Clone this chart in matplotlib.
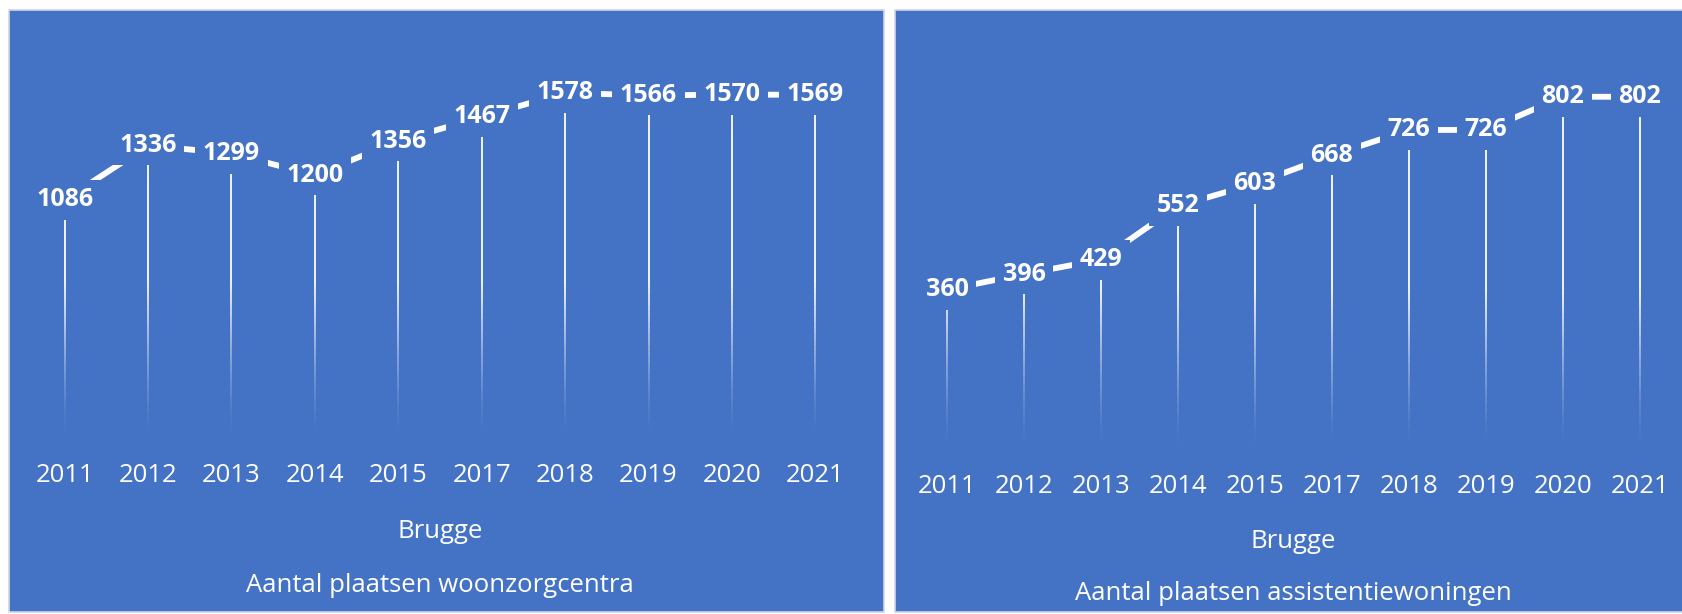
import numpy as np
import matplotlib
matplotlib.use("Agg")
import matplotlib.pyplot as plt
from matplotlib.collections import LineCollection
from matplotlib.patches import Rectangle

# ---- data ----
years = ["2011", "2012", "2013", "2014", "2015", "2017", "2018", "2019", "2020", "2021"]
woonzorg = [1086, 1336, 1299, 1200, 1356, 1467, 1578, 1566, 1570, 1569]
assistentie = [360, 396, 429, 552, 603, 668, 726, 726, 802, 802]
region = "Brugge"
title_left = "Aantal plaatsen woonzorgcentra"
title_right = "Aantal plaatsen assistentiewoningen"

BLUE = "#4472C4"
FONT = ["Open Sans", "DejaVu Sans"]
plt.rcParams["font.family"] = FONT

W, H = 1683, 614
fig = plt.figure(figsize=(W / 100, H / 100), dpi=100)
fig.patch.set_facecolor("white")

def fx(px):
    return px / W

def fy(py):
    return 1 - py / H

# panel backgrounds
for x0, x1 in [(9, 884), (895, 1683)]:
    fig.patches.append(Rectangle((fx(x0), fy(612)), fx(x1 - x0), (612 - 10) / H,
                                 transform=fig.transFigure, facecolor=BLUE,
                                 edgecolor="#cfd6e4", lw=1.2, zorder=-5))


def make_chart(rect_px, values, ymax, subtitle, title, sub_y, title_y, tick_pad):
    x0, x1, ytop, ybase = rect_px
    ax = fig.add_axes([fx(x0), fy(ybase), fx(x1 - x0), (ybase - ytop) / H])
    ax.set_zorder(2)
    ax.set_facecolor("none")
    n = len(values)
    xs = np.arange(n)
    ax.set_xlim(-0.5, n - 0.5)
    ax.set_ylim(0, ymax)
    for s in ax.spines.values():
        s.set_visible(False)
    ax.set_yticks([])
    ax.set_xticks(xs)
    ax.set_xticklabels(years, color="white", fontsize=18.5)
    ax.tick_params(axis="x", length=0, pad=tick_pad)

    # drop lines with fade towards the bottom
    segs, cols = [], []
    nseg = 60
    fade = 0.45 * max(values)
    for xi, v in zip(xs, values):
        ys = np.linspace(0, v, nseg + 1)
        for a, b in zip(ys[:-1], ys[1:]):
            segs.append([(xi, a), (xi, b)])
            al = np.clip((0.5 * (a + b)) / fade, 0, 1) ** 1.4
            cols.append((1, 1, 1, al))
    ax.add_collection(LineCollection(segs, colors=cols, linewidths=1.3, zorder=1))

    # connecting line
    ax.plot(xs, values, color="white", lw=4.2, zorder=2, solid_capstyle="butt")

    # data labels centred on points, masking the line
    for xi, v in zip(xs, values):
        ax.text(xi, v, str(v), ha="center", va="center", color="white",
                fontsize=18, fontweight="bold", zorder=3,
                bbox=dict(boxstyle="square,pad=0.3", facecolor=BLUE, edgecolor="none"))

    cx = fx((x0 + x1) / 2)
    fig.text(cx, fy(sub_y), subtitle, ha="center", va="center", color="white", fontsize=18.5, zorder=5)
    fig.text(cx, fy(title_y), title, ha="center", va="center", color="white", fontsize=18.5, zorder=5)
    return ax


make_chart((23, 857, 40, 436), woonzorg, 1821, region, title_left, 532, 586, 19.5)
make_chart((908.5, 1678.5, 40, 447), assistentie, 932, region, title_right, 541, 593, 19.5)

fig.savefig("out.png", dpi=100, facecolor="white")
